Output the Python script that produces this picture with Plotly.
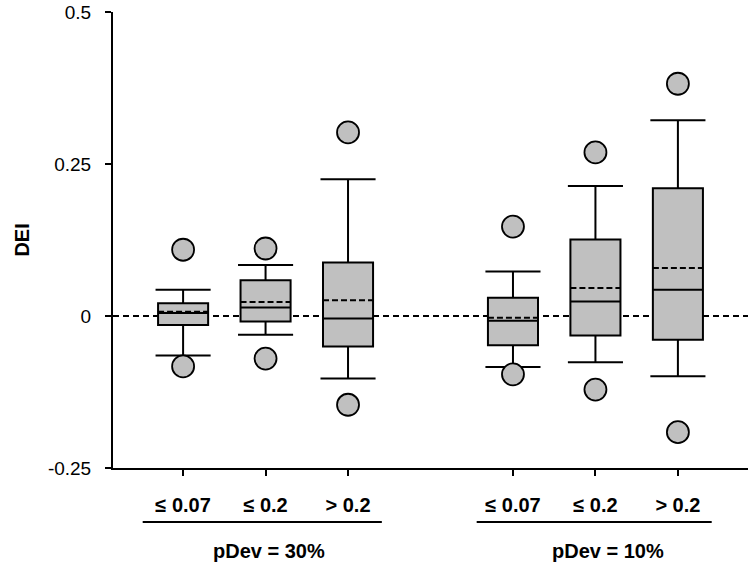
import plotly.graph_objects as go

# ---- data ----
categories = ["≤ 0.07", "≤ 0.2", "> 0.2", "≤ 0.07", "≤ 0.2", "> 0.2"]
positions = [0, 1, 2, 4, 5, 6]
group_labels = ["pDev = 30%", "pDev = 10%"]

q1 = [-0.015, -0.009, -0.050, -0.048, -0.032, -0.039]
median = [0.005, 0.014, -0.004, -0.008, 0.024, 0.043]
q3 = [0.021, 0.059, 0.088, 0.030, 0.126, 0.210]
mean = [0.007, 0.023, 0.026, -0.003, 0.046, 0.079]
lower_whisker = [-0.065, -0.031, -0.103, -0.084, -0.076, -0.099]
upper_whisker = [0.043, 0.084, 0.225, 0.073, 0.214, 0.322]
outlier_low = [-0.083, -0.070, -0.146, -0.096, -0.121, -0.191]
outlier_high = [0.109, 0.111, 0.302, 0.147, 0.269, 0.382]

FONT = "Liberation Sans, Arial, sans-serif"
GRAY = "#c0c0c0"
BOX_W = 0.607
CAP_HALF = 0.334

fig = go.Figure()

fig.add_trace(go.Box(
    x=positions, q1=q1, median=median, q3=q3,
    lowerfence=lower_whisker, upperfence=upper_whisker,
    boxpoints=False, width=BOX_W, whiskerwidth=0,
    fillcolor=GRAY, line=dict(color="black", width=2),
    showlegend=False, hoverinfo="skip",
))

# mean lines (dashed)
mx, my = [], []
for p, m in zip(positions, mean):
    mx += [p - BOX_W / 2, p + BOX_W / 2, None]
    my += [m, m, None]
fig.add_trace(go.Scatter(x=mx, y=my, mode="lines",
                         line=dict(color="black", width=2, dash="6px,3px"),
                         showlegend=False, hoverinfo="skip"))

# whisker caps
cx, cy = [], []
for p, lo, hi in zip(positions, lower_whisker, upper_whisker):
    cx += [p - CAP_HALF, p + CAP_HALF, None, p - CAP_HALF, p + CAP_HALF, None]
    cy += [hi, hi, None, lo, lo, None]
fig.add_trace(go.Scatter(x=cx, y=cy, mode="lines",
                         line=dict(color="black", width=2),
                         showlegend=False, hoverinfo="skip"))

# outliers
fig.add_trace(go.Scatter(
    x=positions + positions, y=outlier_high + outlier_low, mode="markers",
    marker=dict(size=22, color=GRAY, line=dict(color="black", width=1.8)),
    showlegend=False, hoverinfo="skip",
))

shapes = [
    # dashed zero reference line
    dict(type="line", xref="paper", x0=0, x1=1, yref="y", y0=0, y1=0,
         line=dict(color="black", width=2, dash="6px,4px"), layer="below"),
    # x-axis line extension to the left (tick-length)
    dict(type="line", xref="paper", x0=-0.0105, x1=0, yref="y", y0=-0.25, y1=-0.25,
         line=dict(color="black", width=2)),
    # group underlines
    dict(type="line", xref="x", x0=-0.49, x1=2.41, yref="paper", y0=-0.1186, y1=-0.1186,
         line=dict(color="black", width=2)),
    dict(type="line", xref="x", x0=3.56, x1=6.41, yref="paper", y0=-0.1186, y1=-0.1186,
         line=dict(color="black", width=2)),
]

annotations = [
    dict(text="<b>DEI</b>", xref="paper", yref="paper", x=-0.1439, y=0.5,
         textangle=-90, showarrow=False, xanchor="center", yanchor="middle",
         font=dict(family=FONT, size=20, color="black")),
    dict(text="<b>%s</b>" % group_labels[0], xref="x", yref="paper", x=1.04, y=-0.181,
         showarrow=False, xanchor="center", yanchor="middle",
         font=dict(family=FONT, size=20, color="black")),
    dict(text="<b>%s</b>" % group_labels[1], xref="x", yref="paper", x=5.15, y=-0.181,
         showarrow=False, xanchor="center", yanchor="middle",
         font=dict(family=FONT, size=20, color="black")),
]

fig.update_layout(
    template="none",
    width=756, height=568,
    margin=dict(l=113, r=8, t=12, b=100, autoexpand=False),
    paper_bgcolor="white", plot_bgcolor="white",
    font=dict(family=FONT, color="black"),
    shapes=shapes, annotations=annotations,
    xaxis=dict(
        range=[-0.85, 6.85], tickmode="array", tickvals=positions,
        ticktext=["<b>%s</b>" % c for c in categories],
        tickfont=dict(family=FONT, size=20, color="black"),
        ticks="outside", ticklen=6, tickwidth=2, tickcolor="black",
        showline=True, linecolor="black", linewidth=2, automargin=False,
        showgrid=False, zeroline=False, ticklabelstandoff=12,
    ),
    yaxis=dict(
        range=[-0.25, 0.5], tickmode="array", tickvals=[-0.25, 0, 0.25, 0.5],
        ticktext=["-0.25", "0", "0.25", "0.5"],
        tickfont=dict(family=FONT, size=19, color="black"),
        ticks="outside", ticklen=6, tickwidth=2, tickcolor="black",
        showline=True, linecolor="black", linewidth=2, automargin=False,
        showgrid=False, zeroline=False, ticklabelstandoff=10,
    ),
)

fig.write_html(
    "out.html",
    config={"displayModeBar": False, "staticPlot": True},
    post_script="document.body.style.margin='0';document.body.style.overflow='hidden';",
)
